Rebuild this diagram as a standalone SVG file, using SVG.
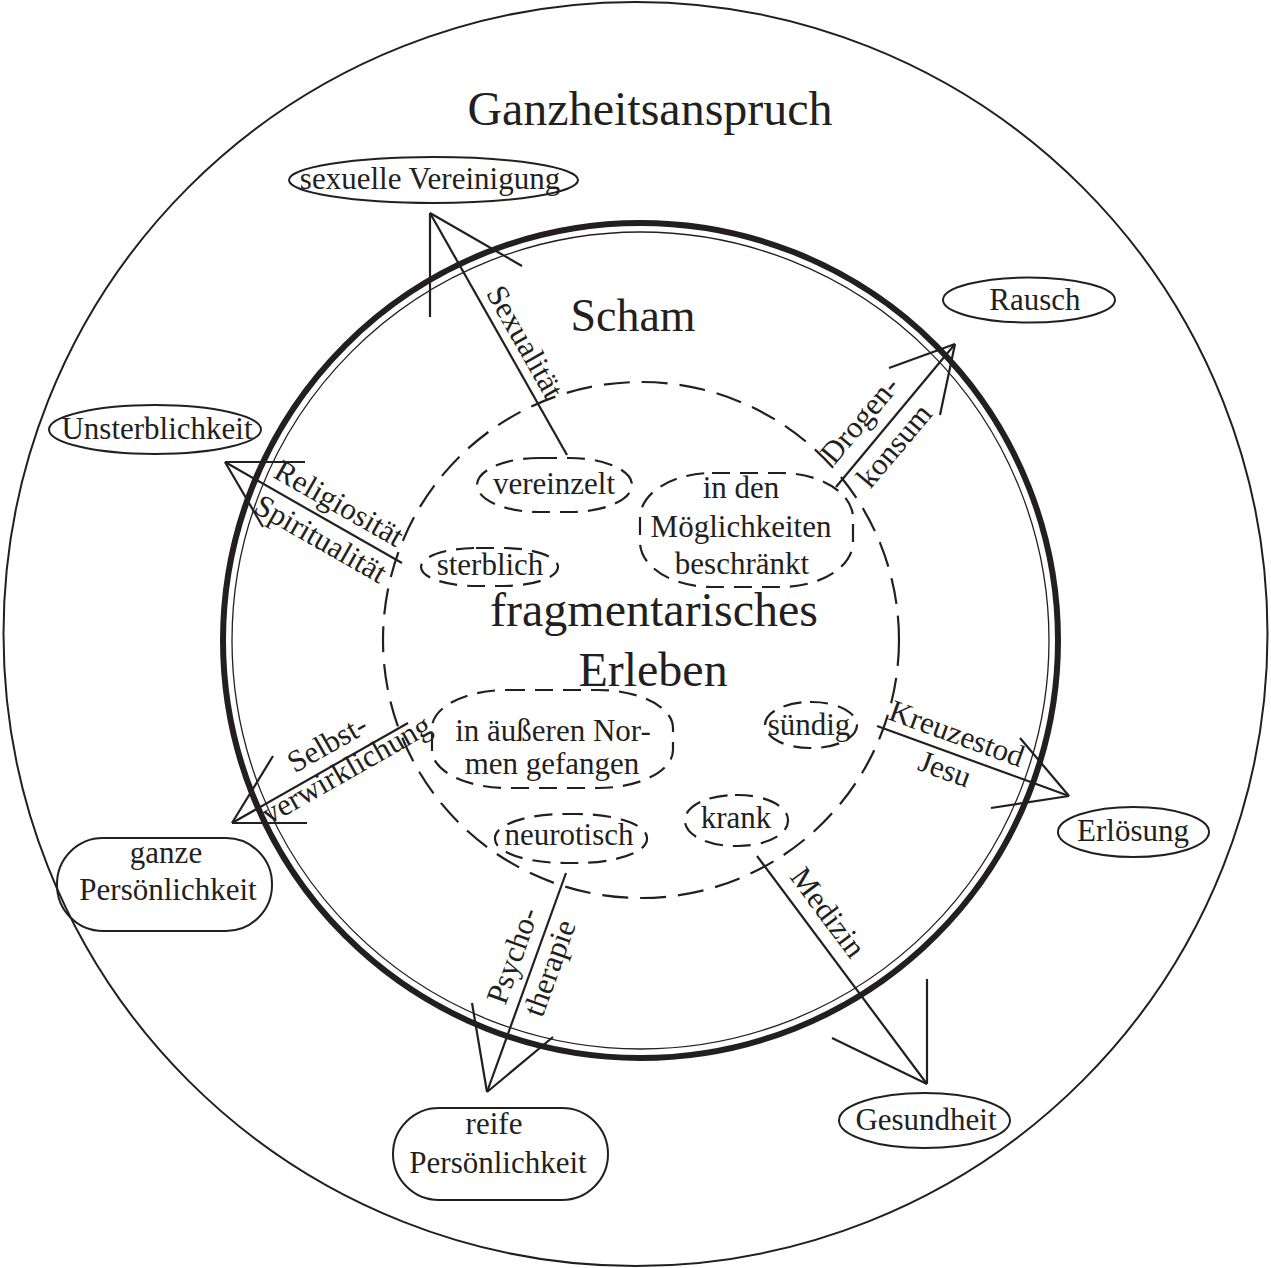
<svg xmlns="http://www.w3.org/2000/svg" width="1271" height="1268" viewBox="0 0 1271 1268">
<style>
text{font-family:"Liberation Serif","Times New Roman",serif;fill:#231f20}
.n{font-size:31px;text-anchor:middle}
.l{font-size:31px}
.big{font-size:48px;text-anchor:middle}
.solid{fill:none;stroke:#231f20;stroke-width:2}
.dash{fill:none;stroke:#231f20;stroke-width:2.2;stroke-dasharray:18 10}
.conn line{stroke:#231f20;stroke-width:2.2}
</style>
<rect width="1271" height="1268" fill="#fff"/>
<g id="circles">
<circle cx="635.5" cy="634" r="632" class="solid"/>
<circle cx="640.5" cy="640.5" r="417.5" fill="none" stroke="#231f20" stroke-width="6"/>
<circle cx="640.5" cy="640.5" r="408.5" fill="none" stroke="#231f20" stroke-width="1.3"/>
<circle cx="641" cy="640" r="258" fill="none" stroke="#231f20" stroke-width="2.2" stroke-dasharray="26 12"/>
</g>
<g id="titles">
<text class="big" x="650" y="125">Ganzheitsanspruch</text>
<text class="big" x="633" y="331" style="font-size:46px">Scham</text>
<text class="big" x="654" y="626">fragmentarisches</text>
<text class="big" x="653" y="686">Erleben</text>
</g>
<g id="outer-nodes">
<g id="sexuelle-vereinigung"><ellipse cx="433.5" cy="180" rx="144.5" ry="23" class="solid"/><text class="n" x="430" y="189">sexuelle Vereinigung</text></g>
<g id="rausch"><ellipse cx="1029" cy="300" rx="86" ry="22.5" class="solid"/><text class="n" x="1035" y="310">Rausch</text></g>
<g id="unsterblichkeit"><ellipse cx="155" cy="429.5" rx="106" ry="24.5" class="solid"/><text class="n" x="157" y="439">Unsterblichkeit</text></g>
<g id="erloesung"><ellipse cx="1133.5" cy="832" rx="75.5" ry="25" class="solid"/><text class="n" x="1133" y="841">Erlösung</text></g>
<g id="gesundheit"><ellipse cx="924.5" cy="1120.5" rx="85.5" ry="27.5" class="solid"/><text class="n" x="926" y="1130">Gesundheit</text></g>
<g id="ganze-persoenlichkeit"><rect x="57" y="838" width="215" height="93" rx="46" ry="46" class="solid"/><text class="n" x="166" y="863">ganze</text><text class="n" x="168" y="900">Persönlichkeit</text></g>
<g id="reife-persoenlichkeit"><rect x="393" y="1108" width="215" height="92" rx="46" ry="46" class="solid"/><text class="n" x="494" y="1134">reife</text><text class="n" x="498" y="1173">Persönlichkeit</text></g>
</g>
<g id="inner-nodes">
<g id="vereinzelt"><rect x="477" y="458" width="155" height="54" rx="62" ry="27" class="dash"/><text class="n" x="554" y="494">vereinzelt</text></g>
<g id="moeglichkeiten"><rect x="640" y="473" width="213" height="114" rx="72" ry="45" class="dash"/><text class="n" x="741" y="498">in den</text><text class="n" x="741" y="537">Möglichkeiten</text><text class="n" x="742" y="574">beschränkt</text></g>
<g id="sterblich"><rect x="421" y="548" width="137" height="38" rx="55" ry="19" class="dash"/><text class="n" x="490" y="575">sterblich</text></g>
<g id="normen"><rect x="432" y="690" width="241" height="98" rx="75" ry="38" class="dash"/><text class="n" x="553" y="741">in äußeren Nor-</text><text class="n" x="552" y="774">men gefangen</text></g>
<g id="suendig"><rect x="765" y="702" width="92" height="46" rx="45" ry="23" class="dash"/><text class="n" x="809" y="735">sündig</text></g>
<g id="krank"><rect x="685" y="795" width="103" height="51" rx="50" ry="25" class="dash"/><text class="n" x="736" y="828">krank</text></g>
<g id="neurotisch"><rect x="495" y="814" width="152" height="49" rx="70" ry="24" class="dash"/><text class="n" x="569" y="845">neurotisch</text></g>
</g>
<g id="connectors" class="conn">
<g id="c-sexualitaet"><line x1="567" y1="455" x2="430" y2="213"/><line x1="430" y1="213" x2="430" y2="317"/><line x1="430" y1="213" x2="522" y2="266"/><text class="l" transform="translate(485.6,293) rotate(60.5)">Sexualität</text></g>
<g id="c-drogen"><line x1="836" y1="487" x2="955" y2="344"/><line x1="955" y1="344" x2="889" y2="368"/><line x1="955" y1="344" x2="940" y2="415"/><text class="l" transform="translate(834.2,465.8) rotate(-49.9)">Drogen-</text><text class="l" transform="translate(870.3,489.7) rotate(-49.9)">konsum</text></g>
<g id="c-religion"><line x1="402" y1="563" x2="225" y2="462"/><line x1="225" y1="462" x2="305" y2="462"/><line x1="225" y1="462" x2="263" y2="527"/><text class="l" transform="translate(271.9,476.7) rotate(29.7)">Religiosität</text><text class="l" transform="translate(252.1,511.4) rotate(29.7)">Spiritualität</text></g>
<g id="c-selbst"><line x1="408" y1="723" x2="232" y2="823"/><line x1="232" y1="823" x2="307" y2="823"/><line x1="232" y1="823" x2="273" y2="756"/><text class="l" transform="translate(294.8,773.6) rotate(-29.6)">Selbst-</text><text class="l" transform="translate(268.9,825.1) rotate(-29.6)">verwirklichung</text></g>
<g id="c-kreuz"><line x1="877" y1="726" x2="1069" y2="796"/><line x1="1069" y1="796" x2="1020" y2="738"/><line x1="1069" y1="796" x2="991" y2="808"/><text class="l" transform="translate(887,719) rotate(20)">Kreuzestod</text><text class="l" transform="translate(916.4,769.6) rotate(20)">Jesu</text></g>
<g id="c-medizin"><line x1="757" y1="856" x2="927" y2="1084"/><line x1="927" y1="1084" x2="927" y2="979"/><line x1="927" y1="1084" x2="832" y2="1038"/><text class="l" transform="translate(788.9,877.1) rotate(53.3)">Medizin</text></g>
<g id="c-psycho"><line x1="566" y1="873" x2="487" y2="1092"/><line x1="487" y1="1092" x2="472" y2="1003"/><line x1="487" y1="1092" x2="553" y2="1037"/><text class="l" transform="translate(505.2,1006.1) rotate(-70.2)">Psycho-</text><text class="l" transform="translate(542.3,1018.4) rotate(-70.2)">therapie</text></g>
</g>
</svg>
